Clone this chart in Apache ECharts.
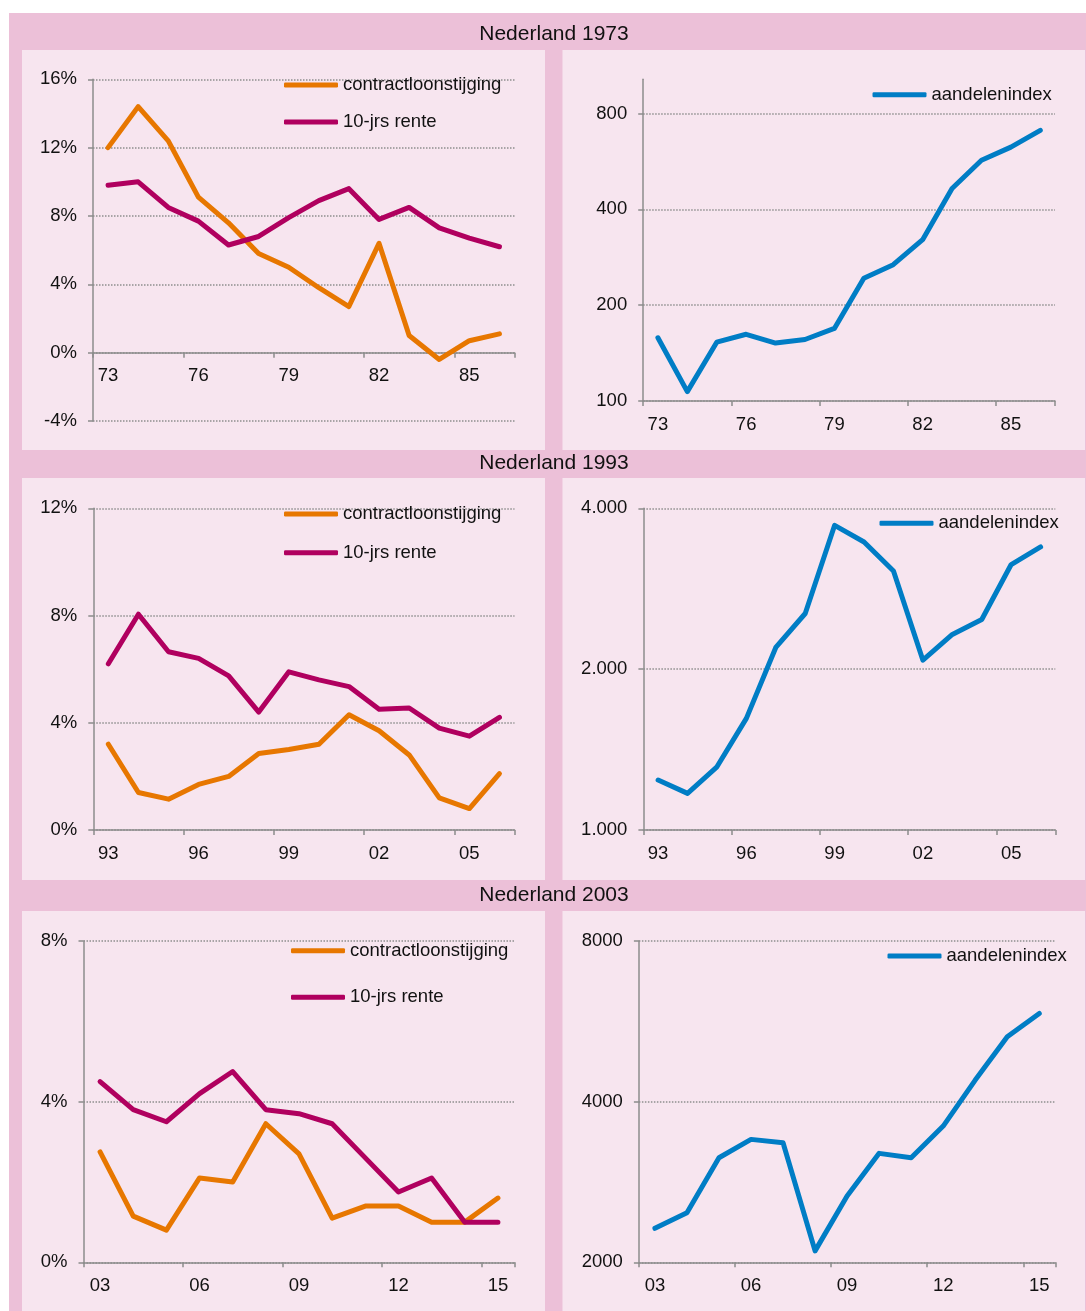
<!DOCTYPE html>
<html>
<head>
<meta charset="utf-8">
<script src="https://cdn.jsdelivr.net/npm/echarts@6/dist/echarts.min.js"></script>
<style>
  html, body { margin: 0; padding: 0; background: #ffffff; }
  #chart { width: 1086px; height: 1311px; }
</style>
</head>
<body>
<div id="chart"></div>
<script>
// ---------- data ----------
const titles = ['Nederland 1973', 'Nederland 1993', 'Nederland 2003'];
const seriesNames = ['contractloonstijging', '10-jrs rente', 'aandelenindex'];

const years73 = ['73','74','75','76','77','78','79','80','81','82','83','84','85','86'];
const loon73  = [12.0, 14.4, 12.4, 9.1, 7.6, 5.8, 5.0, 3.8, 2.7, 6.4, 1.0, -0.4, 0.7, 1.1];
const rente73 = [9.8, 10.0, 8.5, 7.7, 6.3, 6.8, 7.9, 8.9, 9.6, 7.8, 8.5, 7.3, 6.7, 6.2];
const aex73   = [158, 107, 153, 162, 152, 156, 169, 243, 268, 321, 465, 570, 627, 708];

const years93 = ['93','94','95','96','97','98','99','00','01','02','03','04','05','06'];
const loon93  = [3.2, 1.4, 1.15, 1.7, 2.0, 2.85, 3.0, 3.2, 4.3, 3.7, 2.8, 1.2, 0.8, 2.1];
const rente93 = [6.2, 8.05, 6.65, 6.4, 5.75, 4.4, 5.9, 5.6, 5.35, 4.5, 4.55, 3.8, 3.5, 4.2];
const aex93   = [1240, 1171, 1313, 1618, 2196, 2542, 3717, 3460, 3054, 2079, 2323, 2477, 3139, 3386];

const years03 = ['03','04','05','06','07','08','09','10','11','12','13','14','15'];
const loon03  = [2.75, 1.15, 0.8, 2.1, 2.0, 3.45, 2.7, 1.1, 1.4, 1.4, 1.0, 1.0, 1.6];
const rente03 = [4.5, 3.8, 3.5, 4.2, 4.75, 3.8, 3.7, 3.45, 2.6, 1.75, 2.1, 1.0, 1.0];
const aex03   = [2316, 2477, 3140, 3399, 3349, 2101, 2663, 3200, 3140, 3600, 4390, 5292, 5853];

// tick labels / axis ranges
const pctAxis73 = { min: -4, max: 16, interval: 4 };
const pctAxis93 = { min: 0, max: 12, interval: 4 };
const pctAxis03 = { min: 0, max: 8, interval: 4 };
const aexTicks73 = [100, 200, 400, 800];
const aexTicks93 = [1000, 2000, 4000];
const aexTicks03 = [2000, 4000, 8000];
const aexMax73 = 1024;

// ---------- style ----------
const FONT = "'Liberation Sans', Arial, sans-serif";
const C_LOON = '#E77700';
const C_RENTE = '#B0005F';
const C_AEX = '#007DC5';
const C_BAND = '#ECC0D8';
const C_PANEL = '#F7E5EF';
const C_AXIS = '#8C8C8C';
const C_GRID = '#8E8E8E';
const C_TEXT = '#111111';
const FS = 18.5;

const grids = [
  { left: 93,    top: 79.3,  width: 421.5, height: 341.7 },
  { left: 643.2, top: 79.3,  width: 411.8, height: 321.7 },
  { left: 93.3,  top: 508.3, width: 421.2, height: 321.7 },
  { left: 643.4, top: 508.3, width: 411.9, height: 321.7 },
  { left: 83.5,  top: 941,   width: 431,   height: 321.3 },
  { left: 638.9, top: 941,   width: 416.4, height: 321.3 }
];

function thousandsDot(v) {
  return String(Math.round(v)).replace(/\B(?=(\d{3})+(?!\d))/g, '.');
}

// x axis crossing at value 0 of a percent axis
function zeroOffset(gi, ax) {
  if (ax.min >= 0) return 0;
  return -grids[gi].height * (0 - ax.min) / (ax.max - ax.min);
}

function xAxisFor(gi, cats, offset) {
  return {
    type: 'category', gridIndex: gi, data: cats, boundaryGap: true,
    position: 'bottom', offset: offset || 0,
    axisLine: { show: true, onZero: false, lineStyle: { color: C_AXIS, width: 1.5 } },
    axisTick: { show: true, interval: 2, length: 5, lineStyle: { color: C_AXIS, width: 1.5 } },
    axisLabel: { interval: 2, margin: 14, color: C_TEXT, fontSize: FS, fontFamily: FONT },
    splitLine: { show: false }
  };
}
function pctAxisFor(gi, ax) {
  return {
    type: 'value', gridIndex: gi, min: ax.min, max: ax.max, interval: ax.interval,
    axisLine: { show: true, onZero: false, lineStyle: { color: C_AXIS, width: 1.5 } },
    axisTick: { show: true, length: 5, lineStyle: { color: C_AXIS, width: 1.5 } },
    axisLabel: { margin: 16, color: C_TEXT, fontSize: FS, fontFamily: FONT, formatter: v => v + '%' },
    splitLine: { show: true, lineStyle: { color: C_GRID, width: 1.5, type: 'dotted' } }
  };
}
function logAxisFor(gi, ticks, max, fmt) {
  return {
    type: 'log', logBase: 2, gridIndex: gi, min: ticks[0], max: max,
    axisLine: { show: true, onZero: false, lineStyle: { color: C_AXIS, width: 1.5 } },
    axisTick: { show: true, length: 5, customValues: ticks, lineStyle: { color: C_AXIS, width: 1.5 } },
    axisLabel: { margin: 16, color: C_TEXT, fontSize: FS, fontFamily: FONT, customValues: ticks, formatter: fmt },
    splitLine: { show: true, lineStyle: { color: C_GRID, width: 1.5, type: 'dotted' } }
  };
}
function lineSeries(name, gi, data, color) {
  return {
    type: 'line', name: name, xAxisIndex: gi, yAxisIndex: gi, data: data,
    showSymbol: false, symbol: 'none', smooth: false, animation: false,
    lineStyle: { color: color, width: 5, cap: 'round', join: 'round' },
    itemStyle: { color: color }, z: 3
  };
}
function legendFor(names, left, top, gap) {
  return {
    data: names, orient: 'vertical', left: left, top: top, itemGap: gap,
    icon: 'roundRect', itemWidth: 54, itemHeight: 5, selectedMode: false, padding: 0,
    textStyle: { color: C_TEXT, fontSize: FS, fontFamily: FONT, lineHeight: 20 }
  };
}

// background panels
const bgRects = [
  { x: 9, y: 13, w: 1077, h: 1298, c: C_BAND },
  { x: 22, y: 50, w: 523, h: 400, c: C_PANEL },
  { x: 562.5, y: 50, w: 522.5, h: 400, c: C_PANEL },
  { x: 22, y: 478, w: 523, h: 402, c: C_PANEL },
  { x: 562.5, y: 478, w: 522.5, h: 402, c: C_PANEL },
  { x: 22, y: 911, w: 523, h: 400, c: C_PANEL },
  { x: 562.5, y: 911, w: 522.5, h: 400, c: C_PANEL }
];
const titlePos = [34.5, 463.5, 895.5];

const graphics = bgRects.map(r => ({
  type: 'rect', silent: true, z: -100,
  shape: { x: r.x, y: r.y, width: r.w, height: r.h },
  style: { fill: r.c }
})).concat(titles.map((t, i) => ({
  type: 'text', silent: true, z: 10, x: 554, y: titlePos[i],
  style: { text: t, fill: C_TEXT, font: '21px ' + FONT, textAlign: 'center', textVerticalAlign: 'middle' }
})));

const option = {
  backgroundColor: '#ffffff',
  animation: false,
  graphic: graphics,
  grid: grids.map(g => Object.assign({ containLabel: false }, g)),
  xAxis: [
    xAxisFor(0, years73, zeroOffset(0, pctAxis73)), xAxisFor(1, years73),
    xAxisFor(2, years93), xAxisFor(3, years93),
    xAxisFor(4, years03), xAxisFor(5, years03)
  ],
  yAxis: [
    pctAxisFor(0, pctAxis73),
    logAxisFor(1, aexTicks73, aexMax73, v => String(Math.round(v))),
    pctAxisFor(2, pctAxis93),
    logAxisFor(3, aexTicks93, aexTicks93[aexTicks93.length - 1], v => thousandsDot(v)),
    pctAxisFor(4, pctAxis03),
    logAxisFor(5, aexTicks03, aexTicks03[aexTicks03.length - 1], v => String(Math.round(v)))
  ],
  legend: [
    legendFor([seriesNames[0], seriesNames[1]], 284, 75, 17),
    legendFor([seriesNames[2]], 872.5, 84.7, 10),
    legendFor([seriesNames[0], seriesNames[1]], 284, 504, 18.7),
    legendFor([seriesNames[2]], 879.5, 513.3, 10),
    legendFor([seriesNames[0], seriesNames[1]], 291, 940.7, 26.6),
    legendFor([seriesNames[2]], 887.5, 946, 10)
  ],
  series: [
    lineSeries(seriesNames[0], 0, loon73, C_LOON),
    lineSeries(seriesNames[1], 0, rente73, C_RENTE),
    lineSeries(seriesNames[2], 1, aex73, C_AEX),
    lineSeries(seriesNames[0], 2, loon93, C_LOON),
    lineSeries(seriesNames[1], 2, rente93, C_RENTE),
    lineSeries(seriesNames[2], 3, aex93, C_AEX),
    lineSeries(seriesNames[0], 4, loon03, C_LOON),
    lineSeries(seriesNames[1], 4, rente03, C_RENTE),
    lineSeries(seriesNames[2], 5, aex03, C_AEX)
  ]
};

const chart = echarts.init(document.getElementById('chart'), null, { renderer: 'canvas' });
chart.setOption(option);
</script>
</body>
</html>
